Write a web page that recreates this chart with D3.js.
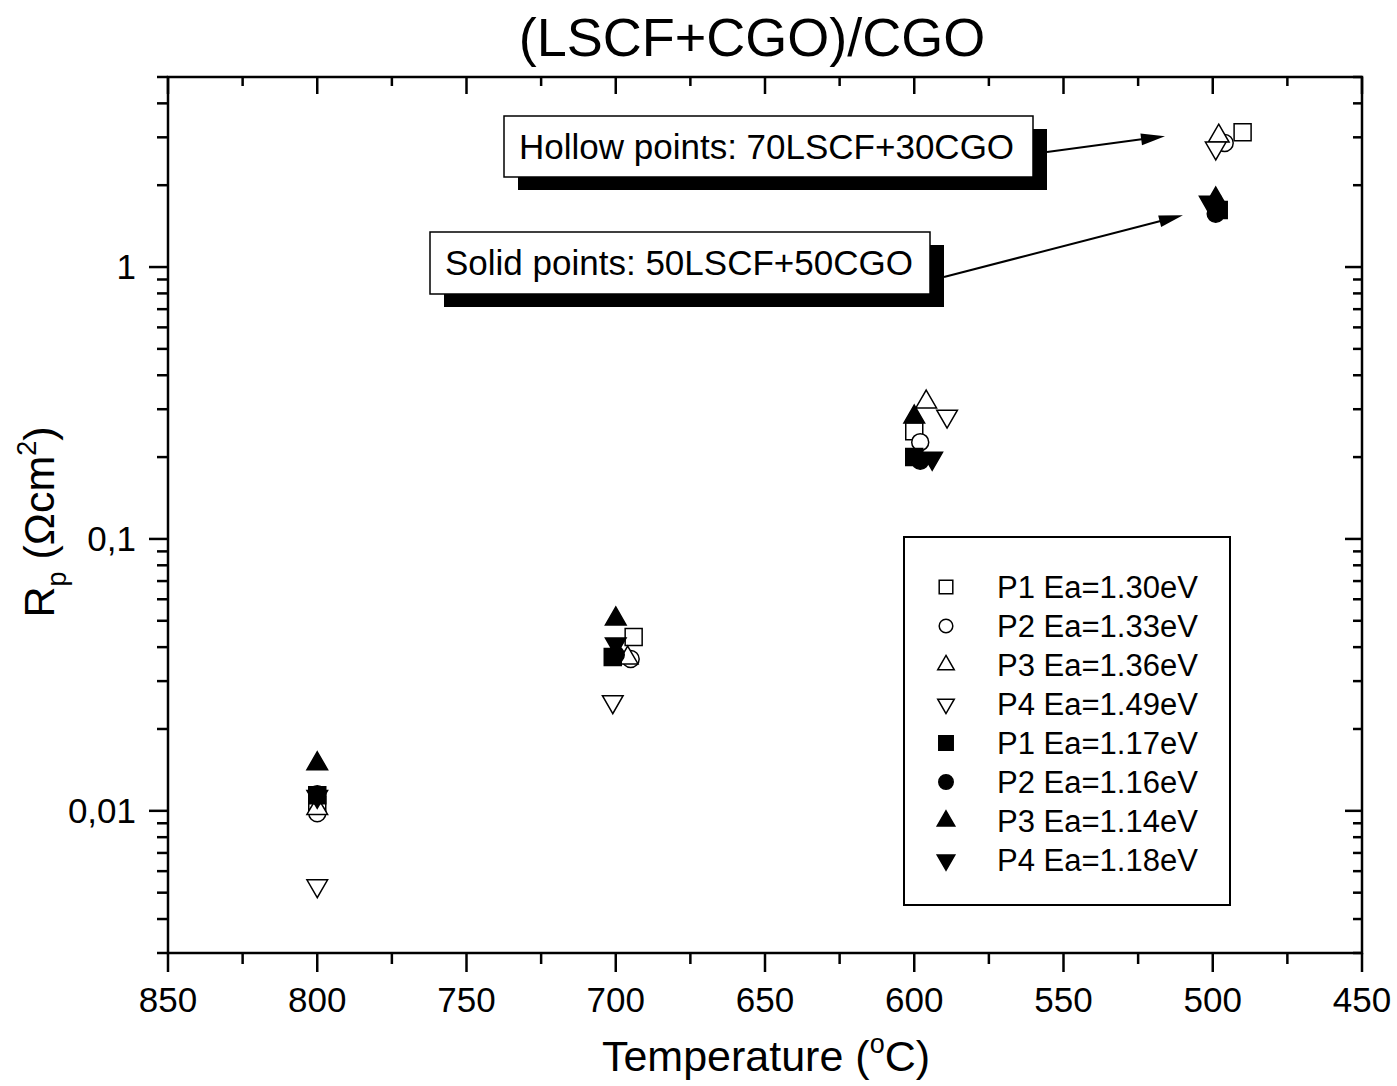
<!DOCTYPE html>
<html>
<head>
<meta charset="utf-8">
<script src="https://cdn.jsdelivr.net/npm/d3@7"></script>
<style>
  body { margin: 0; background: #fff; }
  svg { font-family: "Liberation Sans", Arial, sans-serif; }
</style>
</head>
<body>
<svg class="chart" width="1397" height="1086"></svg>
<script>
// temperatures (C) and polarisation resistance (ohm cm2)
var hollowP1T = [800, 694, 600, 490], hollowP1 = [0.0105, 0.0436, 0.249, 3.13];
var hollowP2T = [800, 695, 598, 496], hollowP2 = [0.0098, 0.0362, 0.227, 2.86];
var hollowP3T = [800, 696, 596, 498], hollowP3 = [0.0102, 0.0365, 0.319, 3.03];
var hollowP4T = [800, 701, 589, 499], hollowP4 = [0.0053, 0.0252, 0.283, 2.74];
var solidP1T = [800, 701, 600, 498], solidP1 = [0.0114, 0.0368, 0.200, 1.62];
var solidP2T = [800, 700, 598, 499], solidP2 = [0.0115, 0.0375, 0.194, 1.57];
var solidP3T = [800, 700, 600, 499], solidP3 = [0.0149, 0.0508, 0.281, 1.78];
var solidP4T = [800, 700, 594, 501], solidP4 = [0.0113, 0.0411, 0.198, 1.73];

var legendLabels = ["P1 Ea=1.30eV", "P2 Ea=1.33eV", "P3 Ea=1.36eV", "P4 Ea=1.49eV",
                    "P1 Ea=1.17eV", "P2 Ea=1.16eV", "P3 Ea=1.14eV", "P4 Ea=1.18eV"];
var xTicks = [850, 800, 750, 700, 650, 600, 550, 500, 450];
var yTicks = [0.01, 0.1, 1];
var yTickLabels = ["0,01", "0,1", "1"];

var series = [
  { t: hollowP1T, v: hollowP1, shape: "square", fill: false },
  { t: hollowP2T, v: hollowP2, shape: "circle", fill: false },
  { t: hollowP3T, v: hollowP3, shape: "up", fill: false },
  { t: hollowP4T, v: hollowP4, shape: "down", fill: false },
  { t: solidP1T, v: solidP1, shape: "square", fill: true },
  { t: solidP2T, v: solidP2, shape: "circle", fill: true },
  { t: solidP3T, v: solidP3, shape: "up", fill: true },
  { t: solidP4T, v: solidP4, shape: "down", fill: true }
];

var svg = d3.select(".chart"),
    plotL = 168, plotR = 1362, plotT = 77, plotB = 953;

var x = d3.scaleLinear().domain([850, 450]).range([plotL, plotR]);
var y = d3.scaleLog().domain([0.003, 5]).range([plotB, plotT]);

function symbolPath(shape, scale) {
  var s = scale || 1;
  if (shape == "square") return d3.symbol(d3.symbolSquare, 289 * s * s)();
  if (shape == "circle") return d3.symbol(d3.symbolCircle, 227 * s * s)();
  return d3.symbol(d3.symbolTriangle, 185 * s * s)();
}

function drawMarker(g, shape, fill, cx, cy, scale) {
  g.append("path")
    .attr("d", symbolPath(shape, scale))
    .attr("transform", "translate(" + cx + "," + cy + ")" + (shape == "down" ? " rotate(180)" : ""))
    .attr("fill", fill ? "#000" : "#fff")
    .attr("stroke", "#000")
    .attr("stroke-width", 1.5);
}

// title
svg.append("text")
  .attr("x", 752).attr("y", 56)
  .attr("text-anchor", "middle")
  .attr("font-size", 54)
  .text("(LSCF+CGO)/CGO");

// ticks
var minorX = d3.range(850, 449, -25);
var minorY = [];
[0.001, 0.01, 0.1, 1].forEach(function(d) {
  for (var k = 1; k < 10; k++) {
    var v = d * k;
    if (v >= 0.003 && v <= 5.0001) minorY.push(v);
  }
});

var axes = svg.append("g").attr("stroke", "#000").attr("stroke-width", 2.5);

minorX.forEach(function(t) {
  var major = xTicks.indexOf(t) >= 0, len = major ? 19 : 11;
  axes.append("line").attr("x1", x(t)).attr("x2", x(t)).attr("y1", plotB).attr("y2", plotB + len);
  axes.append("line").attr("x1", x(t)).attr("x2", x(t)).attr("y1", plotT).attr("y2", plotT + len - 2);
});

minorY.forEach(function(v) {
  var major = yTicks.some(function(m) { return Math.abs(m - v) < 1e-9; }), len = major ? 19 : 11;
  axes.append("line").attr("x1", plotL - len).attr("x2", plotL).attr("y1", y(v)).attr("y2", y(v));
  axes.append("line").attr("x1", plotR - len + 2).attr("x2", plotR).attr("y1", y(v)).attr("y2", y(v));
});

svg.append("rect")
  .attr("x", plotL).attr("y", plotT)
  .attr("width", plotR - plotL).attr("height", plotB - plotT)
  .attr("fill", "none").attr("stroke", "#000").attr("stroke-width", 2.5);

// tick labels
svg.append("g").selectAll("text")
  .data(xTicks)
  .join("text")
  .attr("x", function(d) { return x(d); })
  .attr("y", 1012)
  .attr("text-anchor", "middle")
  .attr("font-size", 35)
  .text(function(d) { return d; });

svg.append("g").selectAll("text")
  .data(yTicks)
  .join("text")
  .attr("x", 136)
  .attr("y", function(d) { return y(d) + 12; })
  .attr("text-anchor", "end")
  .attr("font-size", 35)
  .text(function(d, i) { return yTickLabels[i]; });

// axis titles
var xt = svg.append("text")
  .attr("x", 766).attr("y", 1071)
  .attr("text-anchor", "middle")
  .attr("font-size", 43);
xt.append("tspan").text("Temperature (");
xt.append("tspan").attr("font-size", 27).attr("dy", -18).text("o");
xt.append("tspan").attr("dy", 18).text("C)");

var yt = svg.append("text")
  .attr("transform", "translate(54,522) rotate(-90)")
  .attr("text-anchor", "middle")
  .attr("font-size", 43);
yt.append("tspan").text("R");
yt.append("tspan").attr("font-size", 27).attr("dy", 12).text("p");
yt.append("tspan").attr("dy", -12).text(" (\u03A9cm");
yt.append("tspan").attr("font-size", 27).attr("dy", -18).text("2");
yt.append("tspan").attr("dy", 18).text(")");

// annotation boxes with drop shadow
function note(bx, by, bw, bh, label, fromY, toT, toV) {
  var g = svg.append("g");
  g.append("rect").attr("x", bx + 14).attr("y", by + 13).attr("width", bw).attr("height", bh).attr("fill", "#000");
  g.append("rect").attr("x", bx).attr("y", by).attr("width", bw).attr("height", bh)
    .attr("fill", "#fff").attr("stroke", "#000").attr("stroke-width", 1.5);
  g.append("text").attr("x", bx + 15).attr("y", by + bh / 2 + 12)
    .attr("font-size", 35).text(label);
  var x1 = bx + bw + 14, y1 = fromY, x2 = x(toT), y2 = y(toV);
  var ang = Math.atan2(y2 - y1, x2 - x1);
  g.append("line").attr("x1", x1).attr("y1", y1).attr("x2", x2 - 18 * Math.cos(ang)).attr("y2", y2 - 18 * Math.sin(ang))
    .attr("stroke", "#000").attr("stroke-width", 2);
  g.append("path")
    .attr("d", "M0,0L-24,-6L-24,6Z")
    .attr("transform", "translate(" + x2 + "," + y2 + ") rotate(" + ang * 180 / Math.PI + ")")
    .attr("fill", "#000");
}
note(504, 116, 529, 61, "Hollow points: 70LSCF+30CGO", 152, 516, 3.03);
note(430, 232, 500, 62, "Solid points: 50LSCF+50CGO", 277, 510, 1.55);

// data markers
var marks = svg.append("g");
series.forEach(function(s) {
  s.t.forEach(function(t, i) {
    drawMarker(marks, s.shape, s.fill, x(t), y(s.v[i]), 1);
  });
});

// legend
var lg = svg.append("g");
lg.append("rect").attr("x", 904).attr("y", 537).attr("width", 326).attr("height", 368)
  .attr("fill", "#fff").attr("stroke", "#000").attr("stroke-width", 2);
series.forEach(function(s, i) {
  var ly = 587 + i * 39;
  drawMarker(lg, s.shape, s.fill, 946, ly, s.fill ? 0.85 : 0.8);
  lg.append("text").attr("x", 997).attr("y", ly + 11).attr("font-size", 31).text(legendLabels[i]);
});
</script>
</body>
</html>
